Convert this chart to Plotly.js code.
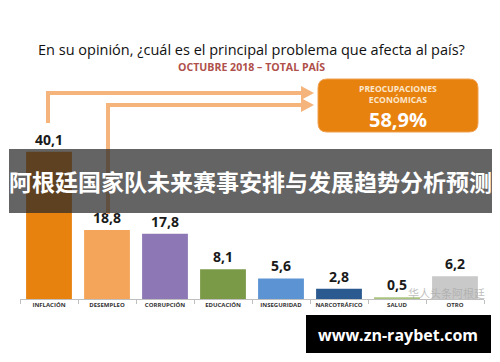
<!DOCTYPE html>
<html><head><meta charset="utf-8">
<script src="https://cdn.plot.ly/plotly-3.0.1.min.js"></script>
<style>html,body{margin:0;padding:0;background:#fff}#c{width:500px;height:362px}</style>
</head><body><div id="c"></div>
<script>
const categories = ["INFLACIÓN","DESEMPLEO","CORRUPCIÓN","EDUCACIÓN","INSEGURIDAD","NARCOTRÁFICO","SALUD","OTRO"];
const values = [40.1, 18.8, 17.8, 8.1, 5.6, 2.8, 0.5, 6.2];
const barColors = ["#E8820E","#F5A55A","#8E77B5","#7A9A48","#5B93D3","#2A5A8F","#A9C47F","#C9C9C9"];
const titleText = "En su opinión, ¿cuál es el principal problema que afecta al país?";
const subtitleText = "OCTUBRE 2018 – TOTAL PAÍS";
const boxLines = ["PREOCUPACIONES","ECONÓMICAS"];
const boxValue = "58,9%";
const bannerText = "阿根廷国家队未来赛事安排与发展趋势分析预测";
const watermarkText = "华人头条阿根廷";
const siteText = "www.zn-raybet.com";

const L=20, R=484, T=116, B=299, W=R-L, H=B-T;
const xp = p => (p-L)/W, yp = p => (B-p)/H;
const labels = values.map(v => v.toFixed(1).replace('.', ','));

function rrect(x0,y0,x1,y1,r){
  const rx=r/W, ry=r/H;
  const a=xp(x0), b=xp(x1), top=yp(y0), bot=yp(y1);
  return `M${a+rx},${top} L${b-rx},${top} Q${b},${top} ${b},${top-ry} L${b},${bot+ry} Q${b},${bot} ${b-rx},${bot} L${a+rx},${bot} Q${a},${bot} ${a},${bot+ry} L${a},${top-ry} Q${a},${top} ${a+rx},${top} Z`;
}
function tri(tx,ty){
  return `M${xp(tx)},${yp(ty)} L${xp(tx-13)},${yp(ty-7)} L${xp(tx-13)},${yp(ty+7)} Z`;
}
const arrowColor = "#F4B47C";
const shapes = [
  {type:'path', xref:'paper', yref:'paper', path:`M${xp(48)},${yp(123)} L${xp(48)},${yp(93)} L${xp(302)},${yp(93)}`, line:{color:arrowColor,width:4}},
  {type:'path', xref:'paper', yref:'paper', path:tri(314,93), fillcolor:arrowColor, line:{width:0}},
  {type:'path', xref:'paper', yref:'paper', path:`M${xp(108)},${yp(214)} L${xp(108)},${yp(105)} L${xp(302)},${yp(105)}`, line:{color:arrowColor,width:4}},
  {type:'path', xref:'paper', yref:'paper', path:tri(314,105), fillcolor:arrowColor, line:{width:0}},
  {type:'path', xref:'paper', yref:'paper', path:rrect(318,79,478,132,9), fillcolor:"#E8820E", line:{color:"#F0A050",width:1}},
  {type:'rect', xref:'paper', yref:'paper', layer:'above', x0:xp(9), x1:xp(492), y0:yp(149), y1:yp(213), fillcolor:"rgba(40,40,40,0.72)", line:{width:0}},
  {type:'rect', xref:'paper', yref:'paper', layer:'above', x0:xp(306), x1:xp(491), y0:yp(315), y1:yp(353), fillcolor:"#000", line:{width:0}}
];
const ann = (text,x,y,size,color,family,weight,extra) => Object.assign({xref:'paper',yref:'paper',x:xp(x),y:yp(y),text,showarrow:false,xanchor:'center',yanchor:'middle',
  font:{family:family||'Open Sans, Liberation Sans, sans-serif',size,color,weight:weight||'normal'}}, extra||{});
const annotations = [
  ann(titleText,251,49,14.5,"#111"),
  ann(subtitleText,251,67,10.6,"#B0504A",null,'bold'),
  ann(boxLines.join('<br>'),398,94,8.6,"#FBE6CC",null,'bold'),
  ann(boxValue,398,119.5,20,"#FFFFFF",null,'bold'),
  ann(bannerText,250,181,23,"#FFFFFF",'Noto Sans CJK SC, sans-serif','bold'),
  ann(watermarkText,446,293,11,"rgba(170,170,170,0.75)",'Noto Sans CJK SC, sans-serif'),
  ann(siteText,398,335,16,"#FFFFFF",null,'bold')
];

Plotly.newPlot('c', [{
  type:'bar', x:categories, y:values, marker:{color:barColors},
  text:labels, textposition:'outside', cliponaxis:false, textangle:0,
  textfont:{family:'Open Sans, sans-serif', size:14, color:'#1a1a1a', weight:'bold'},
  hoverinfo:'none'
}], {
  width:500, height:362,
  margin:{l:L, r:500-R, t:T, b:362-B, pad:0},
  paper_bgcolor:'#fff', plot_bgcolor:'#fff',
  bargap:0.21, showlegend:false,
  xaxis:{showline:true, linecolor:'#BFBFBF', linewidth:1, ticks:'outside', tickson:'boundaries', ticklen:4, tickcolor:'#BFBFBF',
    tickangle:0, automargin:false,
    tickfont:{family:'Open Sans, sans-serif', size:6, color:'#333', weight:'bold'}, showgrid:false, fixedrange:true},
  yaxis:{range:[0, H/3.67], visible:false, showgrid:false, zeroline:false, fixedrange:true},
  shapes, annotations
}, {staticPlot:true});
</script></body></html>
